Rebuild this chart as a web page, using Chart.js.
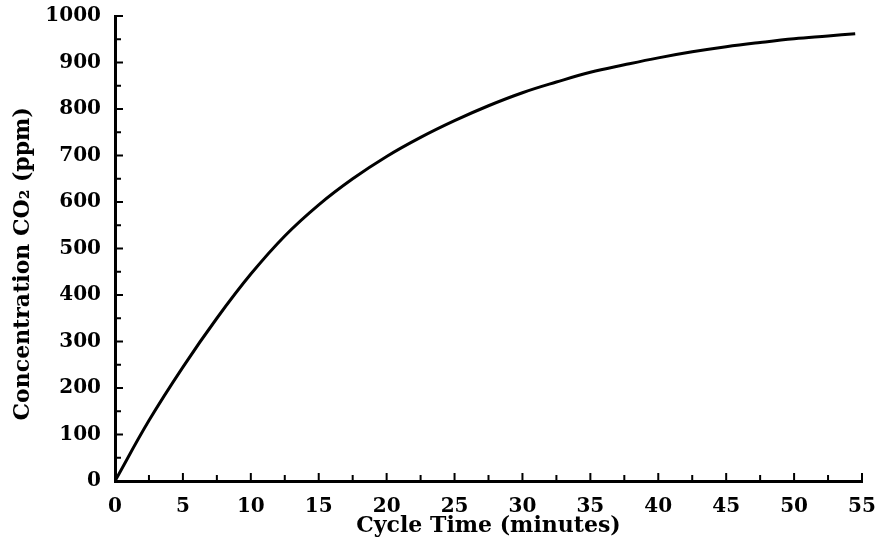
<!DOCTYPE html>
<html lang="en">

<head>
  <meta charset="UTF-8">
  <title>CO2 concentration vs cycle time</title>
  <script src="https://cdn.jsdelivr.net/npm/chart.js"></script>
  <style>
    body { margin: 0; background: #fff; }
    #wrap { width: 880px; height: 544px; }
  </style>
</head>

<body>
  <div id="wrap"><canvas id="myChart" width="880" height="544"></canvas></div>

  <script>
    // values
    const cycleMinutes = [0, 2.5, 5, 7.5, 10, 12.5, 15, 17.5, 20, 22.5, 25, 27.5, 30,
      32.5, 35, 37.5, 40, 42.5, 45, 47.5, 50, 52.5, 54.5];
    const co2Ppm = [0, 130, 245, 350, 445, 527, 594, 650, 698, 739, 775, 807, 835,
      858, 879, 895, 910, 923, 934, 943, 951, 957, 962];

    const xTicks = [0, 5, 10, 15, 20, 25, 30, 35, 40, 45, 50, 55];
    const yTicks = [0, 100, 200, 300, 400, 500, 600, 700, 800, 900, 1000];

    const fontFam = '"DejaVu Serif", serif';

    // tick marks point into the plot, with a minor tick between each major one
    const inwardTicks = {
      id: 'inwardTicks',
      afterDraw(chart) {
        const { ctx, scales: { x, y } } = chart;
        ctx.save();
        ctx.strokeStyle = '#000';
        ctx.lineWidth = 2;
        ctx.beginPath();
        for (let v = 2.5; v <= 55; v += 2.5) {
          const px = x.getPixelForValue(v);
          const len = (v % 5 === 0) ? 8 : 6;
          ctx.moveTo(px, x.top);
          ctx.lineTo(px, x.top - len);
        }
        for (let v = 50; v <= 1000; v += 50) {
          const py = y.getPixelForValue(v);
          const len = (v % 100 === 0) ? 8 : 6;
          ctx.moveTo(y.right, py);
          ctx.lineTo(y.right + len, py);
        }
        ctx.stroke();
        ctx.restore();
      }
    };

    const data = {
      datasets: [{
        data: cycleMinutes.map((t, i) => ({ x: t, y: co2Ppm[i] })),
        borderColor: '#000',
        borderWidth: 3,
        pointRadius: 0,
        fill: false,
        tension: 0.4,
      }]
    };

    const options = {
      responsive: false,
      animation: false,
      layout: { padding: { top: 16, right: 18, left: 0, bottom: 0 } },
      scales: {
        x: {
          type: 'linear',
          min: 0,
          max: 55,
          afterBuildTicks: s => { s.ticks = xTicks.map(v => ({ value: v })); },
          afterFit: s => { s.height = 63; s.paddingLeft = 0; s.paddingRight = 0; },
          grid: { display: false, drawTicks: false },
          border: { display: true, color: '#000', width: 3 },
          ticks: {
            color: '#000',
            padding: 14,
            maxRotation: 0,
            callback: v => String(v),
            font: { family: fontFam, size: 20, weight: 'bold' }
          },
          title: {
            display: true,
            text: 'Cycle Time (minutes)',
            color: '#000',
            padding: { top: 0, bottom: 5 },
            font: { family: fontFam, size: 22, weight: 'bold' }
          }
        },
        y: {
          min: 0,
          max: 1000,
          afterBuildTicks: s => { s.ticks = yTicks.map(v => ({ value: v })); },
          afterFit: s => { s.width = 115; s.paddingTop = 0; s.paddingBottom = 0; },
          grid: { display: false, drawTicks: false },
          border: { display: true, color: '#000', width: 3 },
          ticks: {
            color: '#000',
            padding: 14,
            callback: v => String(v),
            font: { family: fontFam, size: 20, weight: 'bold' }
          },
          title: {
            display: true,
            // trailing spaces nudge the rotated title a little lower, as in the original
            text: 'Concentration CO₂ (ppm)    ',
            color: '#000',
            padding: { top: 10, bottom: 0 },
            font: { family: fontFam, size: 22, weight: 'bold' }
          }
        }
      },
      plugins: {
        legend: { display: false },
        tooltip: { enabled: false }
      }
    };

    const ctx = document.getElementById('myChart').getContext('2d');
    const myChart = new Chart(ctx, {
      type: 'line',
      data: data,
      options: options,
      plugins: [inwardTicks]
    });
  </script>
</body>

</html>
